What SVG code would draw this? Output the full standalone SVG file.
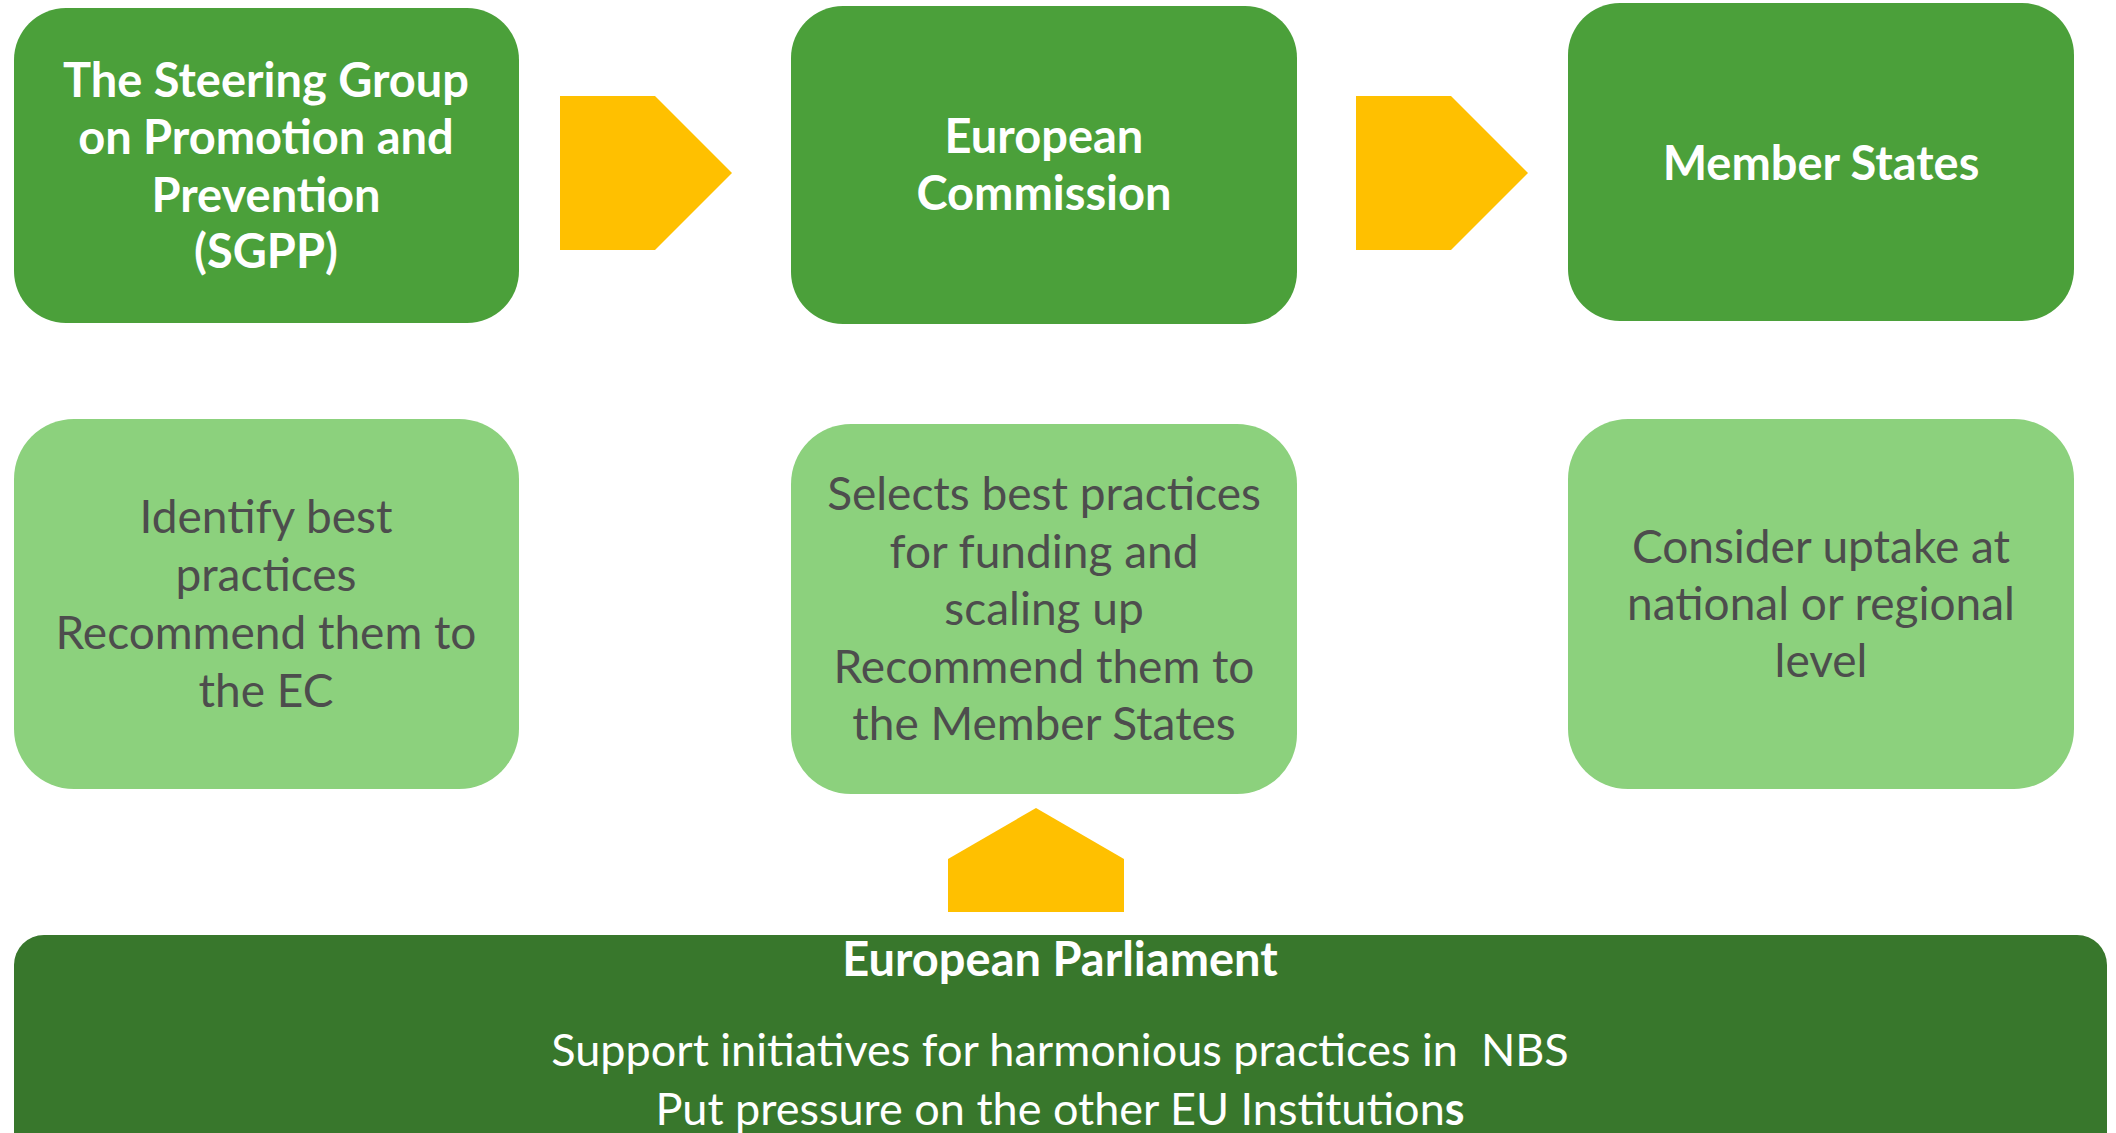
<svg xmlns="http://www.w3.org/2000/svg" width="2116" height="1133" viewBox="0 0 2116 1133">
  <style>
    .head { fill: #4BA03A; }
    .desc { fill: #8CD17D; }
    .base { fill: #38772C; }
    .arrow { fill: #FFC000; }
    text { font-family: Lato, "Open Sans", "Liberation Sans", sans-serif; text-anchor: middle; font-size: 47px; }
    .ht { fill: #FFFFFF; font-weight: bold; }
    .dt { fill: #4D4D4D; font-size: 46px; }
    .bt { fill: #FFFFFF; font-size: 45px; }
  </style>
  <rect width="2116" height="1133" fill="#FFFFFF"/>

  <!-- connectors -->
  <g id="connectors">
    <polygon class="arrow" points="560,96 655,96 732,173 655,250 560,250"/>
    <polygon class="arrow" points="1356,96 1451,96 1528,173 1451,250 1356,250"/>
    <polygon class="arrow" points="948,912 948,859 1036,808 1124,859 1124,912"/>
  </g>

  <!-- top row -->
  <g id="sgpp">
    <rect class="head" x="14" y="8" width="505" height="315" rx="52" ry="52"/>
    <text class="ht" x="266" y="97">The Steering Group</text>
    <text class="ht" x="266" y="154">on Promotion and</text>
    <text class="ht" x="266" y="212">Prevention</text>
    <text class="ht" x="266" y="268">(SGPP)</text>
  </g>
  <g id="commission">
    <rect class="head" x="791" y="6" width="506" height="318" rx="52" ry="52"/>
    <text class="ht" x="1044" y="153">European</text>
    <text class="ht" x="1044" y="210">Commission</text>
  </g>
  <g id="member-states">
    <rect class="head" x="1568" y="3" width="506" height="318" rx="52" ry="52"/>
    <text class="ht" x="1821" y="180">Member States</text>
  </g>

  <!-- second row -->
  <g id="sgpp-role">
    <rect class="desc" x="14" y="419" width="505" height="370" rx="60" ry="60"/>
    <text class="dt" x="266" y="533">Identify best</text>
    <text class="dt" x="266" y="591">practices</text>
    <text class="dt" x="266" y="649">Recommend them to</text>
    <text class="dt" x="266" y="707">the EC</text>
  </g>
  <g id="commission-role">
    <rect class="desc" x="791" y="424" width="506" height="370" rx="60" ry="60"/>
    <text class="dt" x="1044" y="510">Selects best practices</text>
    <text class="dt" x="1044" y="568">for funding and</text>
    <text class="dt" x="1044" y="625">scaling up</text>
    <text class="dt" x="1044" y="683">Recommend them to</text>
    <text class="dt" x="1044" y="740">the Member States</text>
  </g>
  <g id="member-states-role">
    <rect class="desc" x="1568" y="419" width="506" height="370" rx="60" ry="60"/>
    <text class="dt" x="1821" y="563">Consider uptake at</text>
    <text class="dt" x="1821" y="620">national or regional</text>
    <text class="dt" x="1821" y="677">level</text>
  </g>

  <!-- bottom band -->
  <g id="parliament">
    <rect class="base" x="14" y="935" width="2093" height="240" rx="30" ry="30"/>
    <text class="ht" x="1060" y="976">European Parliament</text>
    <text class="bt" x="1060" y="1066" xml:space="preserve">Support initiatives for harmonious practices in  NBS</text>
    <text class="bt" x="1060" y="1125">Put pressure on the other EU Institution<tspan font-weight="bold">s</tspan></text>
  </g>
</svg>
